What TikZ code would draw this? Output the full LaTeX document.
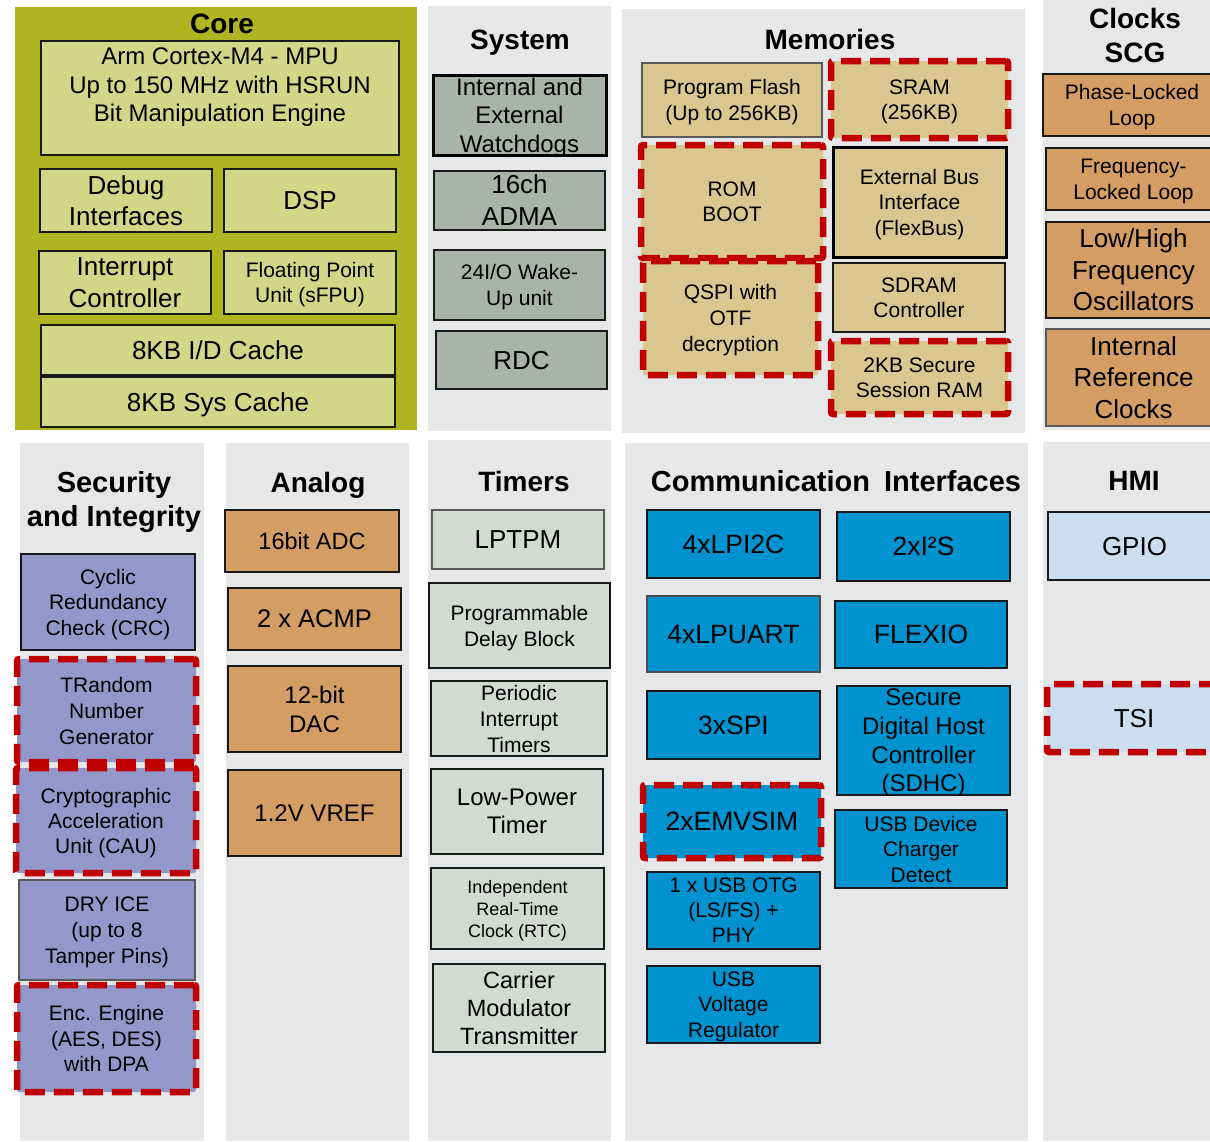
\documentclass[tikz,border=0pt]{standalone}
\usepackage{fontspec}
\setmainfont{Liberation Sans}
\newcommand\fsz[2]{\fontsize{#1}{#2}\selectfont}

\definecolor{coreolive}{RGB}{175,180,32}
\definecolor{corefill}{RGB}{210,214,135}
\definecolor{panelgray}{RGB}{230,231,233}
\definecolor{sysfill}{RGB}{169,179,170}
\definecolor{memfill}{RGB}{217,199,143}
\definecolor{clkfill}{RGB}{211,157,99}
\definecolor{secfill}{RGB}{147,152,203}
\definecolor{timfill}{RGB}{211,218,212}
\definecolor{comfill}{RGB}{0,147,208}
\definecolor{hmifill}{RGB}{202,222,240}
\definecolor{dashred}{RGB}{192,0,0}
\definecolor{edge}{RGB}{25,25,25}

\tikzset{
  txt/.style={inner sep=0pt, align=center, text depth=0pt},
  blk/.style={txt, draw=edge, line width=2pt},
  thinblk/.style={txt, draw=black!65, line width=1.2pt},
  thickblk/.style={txt, draw=black, line width=3pt},
  secure/.style={txt, draw=dashred, line width=6.5pt, dash pattern=on 20pt off 9pt,
                 rounded corners=2pt},
  sz/.style 2 args={minimum width=#1pt, minimum height=#2pt},
  ttl/.style={txt, font=\bfseries\fsz{28}{34}},
  fA/.style={font=\fsz{21}{25.5}},
  fB/.style={font=\fsz{24}{28.5}},
  fC/.style={font=\fsz{26}{31.5}},
}

\begin{document}
\begin{tikzpicture}[x=1pt,y=-1pt]
\clip (0,0) rectangle (1210,1141);
\fill[white] (0,0) rectangle (1210,1141);

% ---------- panels ----------
\fill[coreolive] (15,7) rectangle (417,430);
\fill[panelgray] (428,6) rectangle (611,431);
\fill[panelgray] (622,9) rectangle (1025,433);
\fill[panelgray] (1043,0) rectangle (1215,430);
\fill[panelgray] (20,443) rectangle (204,1141);
\fill[panelgray] (226,443) rectangle (409,1141);
\fill[panelgray] (428,440) rectangle (611,1141);
\fill[panelgray] (625,443) rectangle (1028,1141);
\fill[panelgray] (1043,442) rectangle (1215,1141);

% ---------- Core ----------
\node[ttl] (coretitle) at (222,24) {Core};
\node[blk, fill=corefill, sz={358}{114}] (cortex) at (220,98) {};
\node[txt, font=\fsz{24}{28.5}] (cortextxt) at (220,85)
  {Arm Cortex-M4 - MPU\\Up to 150 MHz with HSRUN\\Bit Manipulation Engine};
\node[blk, fill=corefill, sz={172}{63}, fC] (debug) at (126,200.5) {Debug\\Interfaces};
\node[blk, fill=corefill, sz={172}{63}, fC] (dsp) at (310,200.5) {DSP};
\node[blk, fill=corefill, sz={172}{63}, fC] (intc) at (125,282.5) {Interrupt\\Controller};
\node[blk, fill=corefill, sz={172}{63}, fA] (fpu) at (310,282.5) {Floating Point\\Unit (sFPU)};
\node[blk, fill=corefill, sz={354}{50}, fC] (idcache) at (218,350) {8KB I/D Cache};
\node[blk, fill=corefill, sz={354}{50}, fC] (syscache) at (218,402) {8KB Sys Cache};

% ---------- System ----------
\node[ttl] (systitle) at (520,40) {System};
\node[thickblk, fill=sysfill, sz={173}{80}, fB] (wdog) at (519.5,115) {Internal and\\External\\Watchdogs};
\node[blk, fill=sysfill, sz={171}{59}, font=\fsz{26}{32}] (adma) at (519.5,200.5) {16ch\\ADMA};
\node[blk, fill=sysfill, sz={171}{70}, font=\fsz{21}{26}] (wake) at (519.5,285) {24I/O Wake-\\Up unit};
\node[blk, fill=sysfill, sz={171}{58}, fC] (rdc) at (521.5,360) {RDC};

% ---------- Memories ----------
\node[ttl] (memtitle) at (830,39) {Memories};
\node[thinblk, fill=memfill, sz={180}{74}, fA] (pflash) at (732,100) {Program Flash\\(Up to 256KB)};
\node[secure, fill=memfill, sz={177}{77}, fA] (sram) at (919.5,99.5) {SRAM\\(256KB)};
\node[secure, fill=memfill, sz={182}{113}, fA] (rom) at (732,201.5) {ROM\\BOOT};
\node[thickblk, fill=memfill, sz={173}{110}, fA] (ebi) at (919.5,202) {External Bus\\Interface\\(FlexBus)};
\node[secure, fill=memfill, sz={175}{114}, font=\fsz{21}{26}] (qspi) at (730.5,318) {QSPI with\\OTF\\decryption};
\node[blk, fill=memfill, sz={172}{69}, fA] (sdram) at (919,297.5) {SDRAM\\Controller};
\node[secure, fill=memfill, sz={177}{73}, fA] (ssram) at (919.5,377.5) {2KB Secure\\Session RAM};

% ---------- Clocks SCG ----------
\node[ttl] (clktitle) at (1135,35) {Clocks\\SCG};
\node[blk, fill=clkfill, sz={178}{62}, font=\fsz{21}{26}] (pll) at (1132,105) {Phase-Locked\\Loop};
\node[blk, fill=clkfill, sz={175}{62}, font=\fsz{21}{26}] (fll) at (1133.5,179) {Frequency-\\Locked Loop};
\node[blk, fill=clkfill, sz={175}{96}, fC] (osc) at (1133.5,270) {Low/High\\Frequency\\Oscillators};
\node[thinblk, fill=clkfill, sz={175}{97}, fC] (irc) at (1133.5,377.5) {Internal\\Reference\\Clocks};

% ---------- Security and Integrity ----------
\node[txt, font=\bfseries\fsz{29}{34}] (sectitle) at (114,499) {Security\\and Integrity};
\node[blk, fill=secfill, sz={174}{96}, fA] (crc) at (108,602) {Cyclic\\Redundancy\\Check (CRC)};
\node[secure, fill=secfill, sz={179}{103}, font=\fsz{21}{26}] (trng) at (106.5,710.5) {TRandom\\Number\\Generator};
\node[secure, fill=secfill, sz={180}{105}, font=\fsz{21}{25}] (cau) at (106,820.5) {Cryptographic\\Acceleration\\Unit (CAU)};
\node[thinblk, fill=secfill, sz={176}{100}, font=\fsz{21}{26}] (dryice) at (107,930) {DRY ICE\\(up to 8\\Tamper Pins)};
\node[secure, fill=secfill, sz={179}{107}, fA] (enc) at (106.5,1038.5) {Enc. Engine\\(AES, DES)\\with DPA};

% ---------- Analog ----------
\node[ttl] (anatitle) at (318,482) {Analog};
\node[blk, fill=clkfill, sz={174}{62}, font=\fsz{23.5}{28}] (adc) at (312,541) {16bit ADC};
\node[blk, fill=clkfill, sz={173}{62}, font=\fsz{25.5}{29}] (acmp) at (314.5,619) {2 x ACMP};
\node[blk, fill=clkfill, sz={173}{86}, font=\fsz{24}{29}] (dac) at (314.5,709) {12-bit\\DAC};
\node[blk, fill=clkfill, sz={173}{86}, font=\fsz{24}{29}] (vref) at (314.5,813) {1.2V VREF};

% ---------- Timers ----------
\node[ttl] (timtitle) at (524,481) {Timers};
\node[thinblk, fill=timfill, sz={172}{59}, fC] (lptpm) at (518,539.5) {LPTPM};
\node[blk, fill=timfill, sz={181}{85}, font=\fsz{21}{26}] (pdb) at (519.5,625.5) {Programmable\\Delay Block};
\node[blk, fill=timfill, sz={176}{75}, font=\fsz{21}{26}] (pit) at (519,718.5) {Periodic\\Interrupt\\Timers};
\node[blk, fill=timfill, sz={172}{85}, font=\fsz{24}{28}] (lptmr) at (517,811.5) {Low-Power\\Timer};
\node[blk, fill=timfill, sz={173}{81}, font=\fsz{18}{22}] (rtc) at (517.5,908.5) {Independent\\Real-Time\\Clock (RTC)};
\node[blk, fill=timfill, sz={172}{88}, font=\fsz{23.5}{28}] (cmt) at (519,1008) {Carrier\\Modulator\\Transmitter};

% ---------- Communication Interfaces ----------
\node[ttl, font=\bfseries\fsz{29}{34}] (comtitle) at (836,481) {Communication\hspace{6pt} Interfaces};
\node[blk, fill=comfill, sz={173}{68}, font=\fsz{26.5}{30}] (lpi2c) at (733.5,544) {4xLPI2C};
\node[blk, fill=comfill, sz={173}{69}, font=\fsz{26.5}{30}] (i2s) at (923.5,546.5) {2xI²S};
\node[thinblk, draw=black!70, fill=comfill, sz={173}{76}, font=\fsz{26.5}{30}] (lpuart) at (733.5,634) {4xLPUART};
\node[blk, fill=comfill, sz={172}{67}, font=\fsz{26.5}{30}] (flexio) at (921,634.5) {FLEXIO};
\node[blk, fill=comfill, sz={173}{68}, font=\fsz{26.5}{30}] (spi) at (733.5,725) {3xSPI};
\node[blk, fill=comfill, sz={173}{109}, font=\fsz{24}{28.7}] (sdhc) at (923.5,740.5) {Secure\\Digital Host\\Controller\\(SDHC)};
\node[secure, fill=comfill, sz={178}{73}, font=\fsz{26.5}{30}] (emvsim) at (732,821.5) {2xEMVSIM};
\node[blk, fill=comfill, sz={172}{78}, fA] (usbdcd) at (921,849) {USB Device\\Charger\\Detect};
\node[blk, fill=comfill, sz={173}{77}, font=\fsz{21}{25}] (otg) at (733.5,910.5) {1 x USB OTG\\(LS/FS) +\\PHY};
\node[blk, fill=comfill, sz={173}{77}, fA] (vreg) at (733.5,1004.5) {USB\\Voltage\\Regulator};

% ---------- HMI ----------
\node[ttl] (hmititle) at (1134,481) {HMI};
\node[blk, fill=hmifill, sz={173}{68}, fC] (gpio) at (1134.5,546) {GPIO};
\node[secure, fill=hmifill, sz={174}{68}, fC] (tsi) at (1134,718) {TSI};
\end{tikzpicture}
\end{document}
